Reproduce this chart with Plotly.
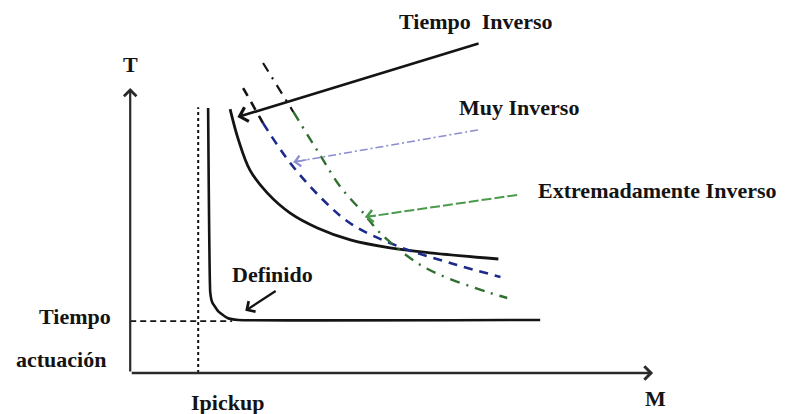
import plotly.graph_objects as go

# ---- data (M = multiple of pickup current, T = operating time; arbitrary units) ----
# axes run from 0 to 10 in both directions
M_axis = [0.0, 10.0]
T_axis = [0.0, 10.0]

# Tiempo Inverso (solid black)
inv_M = [1.91, 2.07, 2.29, 2.62, 3.06, 3.58, 4.21, 4.97, 5.79, 7.04]
inv_T = [9.26, 8.18, 7.12, 6.32, 5.61, 5.09, 4.67, 4.39, 4.21, 4.00]

# Muy Inverso (blue dashed)
muy_M = [2.16, 2.54, 3.06, 3.69, 4.26, 5.16, 6.12, 7.08]
muy_T = [10.00, 8.77, 7.37, 6.07, 5.19, 4.42, 3.86, 3.37]

# Extremadamente Inverso (green dash-dot)
ext_M = [2.54, 3.12, 3.63, 4.02, 4.46, 4.78, 5.49, 5.93, 6.83, 7.21]
ext_T = [10.88, 9.16, 7.65, 6.53, 5.61, 4.91, 3.86, 3.44, 2.84, 2.63]

# Definido (solid black)
def_M = [1.49, 1.53, 1.57, 1.69, 1.86, 2.07, 7.84]
def_T = [9.30, 2.84, 2.47, 2.15, 1.93, 1.86, 1.86]

# reference lines
I_pickup = 1.30
pickup_top = 9.33
T_act = 1.82
T_act_end = 1.95

# label positions  (text, M, T)
labels = [
    ("T", 0.0, 10.81),
    ("M", 10.04, -0.88),
    ("Ipickup", 1.86, -1.02),
    ("Tiempo", -1.05, 1.97),
    ("actuación", -1.32, 0.46),
    ("Tiempo  Inverso", 6.62, 12.32),
    ("Muy Inverso", 7.44, 9.33),
    ("Extremadamente Inverso", 10.08, 6.42),
    ("Definido", 2.72, 3.44),
]

# pointer arrows: (tail M, tail T, head M, head T)
arrow_inv = (6.69, 11.58, 2.05, 8.98)
arrow_muy = (6.65, 8.53, 3.12, 7.40)
arrow_ext = (7.40, 6.25, 4.49, 5.47)
arrow_def = (2.81, 2.91, 2.20, 2.18)

FONT = "Liberation Serif"
INK = "#141414"
BLUE = "#1c2a8c"
GREEN = "#2f6f2f"
PURPLE = "#8c8cd2"
LGREEN = "#4c9a4c"

fig = go.Figure()

def line(x, y, color, width, dash="solid", shape="spline", smoothing=1.0):
    fig.add_trace(go.Scatter(
        x=x, y=y, mode="lines",
        line=dict(color=color, width=width, dash=dash, shape=shape,
                  smoothing=smoothing if shape == "spline" else None),
        hoverinfo="skip", showlegend=False))

# pickup dotted vertical & operating-time dashed horizontal
line([I_pickup, I_pickup], [0, pickup_top], INK, 2.0, dash="3px,3px", shape="linear")
line([0, T_act_end], [T_act, T_act], INK, 1.8, dash="6px,4px", shape="linear")

# curves
line(def_M, def_T, INK, 2.6, smoothing=0.3)
line(inv_M, inv_T, INK, 2.8)
line(muy_M[:2], muy_T[:2], INK, 2.6, dash="9px,7px", shape="linear")
line(muy_M[1:], muy_T[1:], BLUE, 2.6, dash="9px,7px")
line(ext_M[:2], ext_T[:2], INK, 2.2, dash="10px,7px,2px,7px", shape="linear")
line(ext_M[1:], ext_T[1:], GREEN, 2.4, dash="10px,7px,2px,7px")

# dashed pointer shafts
line([arrow_muy[0], arrow_muy[2]], [arrow_muy[1], arrow_muy[3]], PURPLE, 1.6,
     dash="8px,3px,2px,3px", shape="linear")
line([arrow_ext[0], arrow_ext[2]], [arrow_ext[1], arrow_ext[3]], LGREEN, 2.0,
     dash="10px,3px", shape="linear")

annotations = []

def arrow(tail_m, tail_t, head_m, head_t, color, width, size=1.0):
    annotations.append(dict(
        x=head_m, y=head_t, ax=tail_m, ay=tail_t,
        xref="x", yref="y", axref="x", ayref="y",
        text="", showarrow=True, arrowhead=4, arrowsize=size,
        arrowwidth=width, arrowcolor=color, standoff=0, startstandoff=0))

# axes with arrow tips
arrow(M_axis[0], T_axis[0], M_axis[1], T_axis[0], "#2a2a2a", 2.6, 1.0)
arrow(M_axis[0], T_axis[0], M_axis[0], T_axis[1], "#2a2a2a", 2.2, 1.1)

# solid pointers
arrow(*arrow_inv, INK, 2.6, 1.1)
arrow(*arrow_def, INK, 2.2, 1.1)

# heads only for the dashed pointers (short stub along the shaft)
for (tm, tt, hm, ht), col, w in [(arrow_muy, PURPLE, 1.6), (arrow_ext, LGREEN, 1.8)]:
    f = 0.08
    arrow(hm + f * (tm - hm), ht + f * (tt - ht), hm, ht, col, w, 1.3)

for text, m, t in labels:
    annotations.append(dict(
        x=m, y=t, xref="x", yref="y", text=f"<b>{text}</b>", showarrow=False,
        font=dict(family=FONT, size=22, color=INK),
        xanchor="center", yanchor="middle"))

fig.update_layout(
    width=787, height=414,
    margin=dict(l=0, r=0, t=0, b=0),
    paper_bgcolor="white", plot_bgcolor="white",
    xaxis=dict(range=[-2.49, 12.56], visible=False, fixedrange=True),
    yaxis=dict(range=[-1.44, 13.09], visible=False, fixedrange=True),
    annotations=annotations,
    hovermode=False,
    showlegend=False,
)

fig.write_html(
    "out.html",
    config={"displayModeBar": False},
    post_script="document.body.style.margin='0';document.body.style.overflow='hidden';",
)
